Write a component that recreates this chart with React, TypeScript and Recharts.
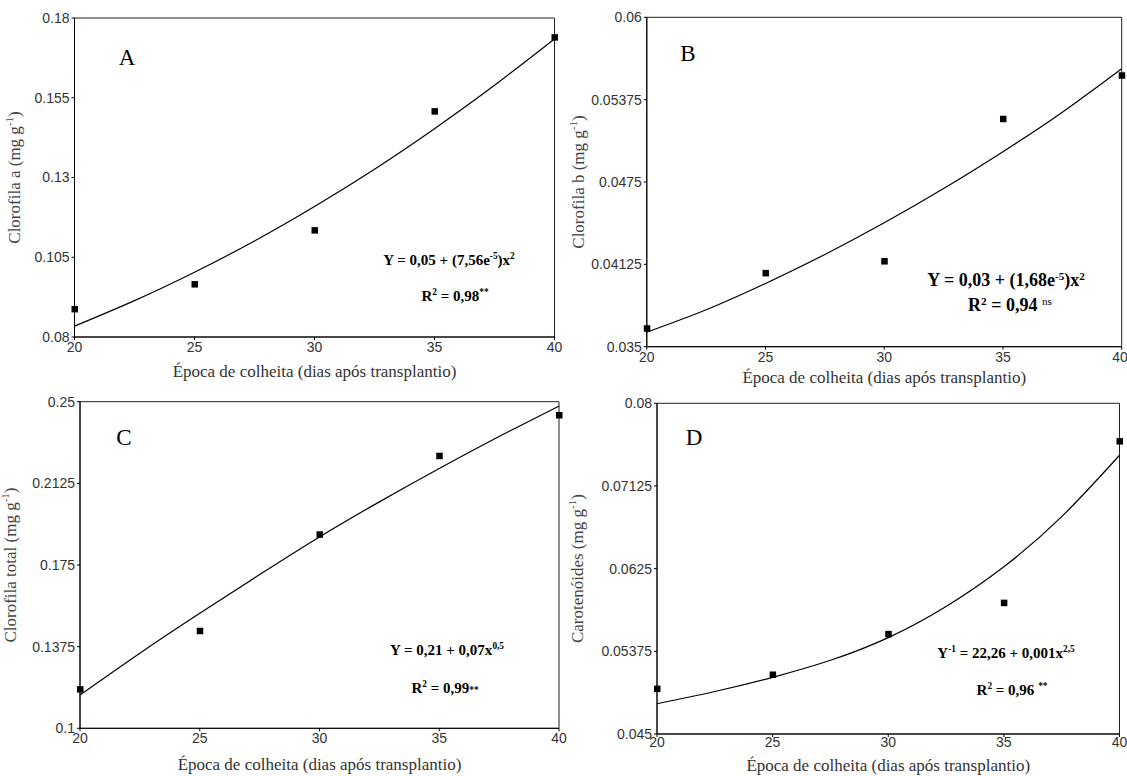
import { ComposedChart, Line, Scatter, XAxis, YAxis, ReferenceArea } from "recharts";

// dias após transplantio
const epocas = [20, 25, 30, 35, 40];
const ajusteX = [20, 22.5, 25, 27.5, 30, 32.5, 35, 37.5, 40];
const xTicks = [20, 25, 30, 35, 40];

// A - clorofila a
const clorofilaA = [0.0888, 0.0966, 0.1135, 0.1508, 0.174];
const ajusteA = [0.0834, 0.0914, 0.1003, 0.1101, 0.1209, 0.1326, 0.1453, 0.1589, 0.1734];
const ticksA = [0.08, 0.105, 0.13, 0.155, 0.18];

// B - clorofila b
const clorofilaB = [0.0364, 0.0406, 0.0415, 0.0523, 0.0556];
const ajusteB = [0.0361, 0.0378, 0.0398, 0.042, 0.0444, 0.047, 0.0498, 0.0528, 0.0561];
const ticksB = [0.035, 0.04125, 0.0475, 0.05375, 0.06];

// C - clorofila total
const clorofilaTotal = [0.118, 0.1448, 0.1891, 0.2252, 0.2439];
const ajusteTotal = [0.1153, 0.1345, 0.1528, 0.1706, 0.1879, 0.204, 0.2193, 0.234, 0.248];
const ticksC = [0.1, 0.1375, 0.175, 0.2125, 0.25];

// D - carotenóides
const carotenoides = [0.0498, 0.0513, 0.0556, 0.0589, 0.076];
const ajusteCarot = [0.0482, 0.0495, 0.051, 0.0528, 0.0552, 0.0585, 0.0627, 0.068, 0.0745];
const ticksD = [0.045, 0.05375, 0.0625, 0.07125, 0.08];

const serif = "'Liberation Serif', 'Times New Roman', serif";
const sans = "'Liberation Sans', Arial, sans-serif";
const xTitle = "Época de colheita (dias após transplantio)";

const Square = (props: any) => {
  const { cx, cy } = props;
  return <rect x={cx - 3} y={cy - 3} width={6.5} height={6.5} fill="#000" />;
};

type PanelProps = {
  left: number;
  top: number;
  width: number;
  height: number;
  margin: { top: number; right: number; bottom: number; left: number };
  xAxisHeight: number;
  tickMargin: number;
  xTitleDy: number;
  yTitleX: number;
  yTitle: string;
  points: number[];
  fit: number[];
  yTicks: number[];
};

const Panel = (p: PanelProps) => {
  const pts = epocas.map((x, i) => ({ x, y: p.points[i] }));
  const curve = ajusteX.map((x, i) => ({ x, y: p.fit[i] }));
  const yMin = p.yTicks[0];
  const yMax = p.yTicks[p.yTicks.length - 1];

  const renderXTitle = (props: any) => {
    const vb = props.viewBox || { x: 0, y: 0, width: 0 };
    return (
      <text
        x={vb.x + vb.width / 2}
        y={vb.y + p.xTitleDy}
        textAnchor="middle"
        fontFamily={serif}
        fontSize={17}
        fill="#333"
      >
        {xTitle}
      </text>
    );
  };

  const renderYTitle = (props: any) => {
    const vb = props.viewBox || { x: 0, y: 0, height: 0 };
    const cy = vb.y + vb.height / 2;
    const cx = p.yTitleX + 6;
    return (
      <text
        x={cx}
        y={cy}
        transform={`rotate(-90 ${cx} ${cy})`}
        textAnchor="middle"
        fontFamily={serif}
        fontSize={17}
        fill="#444"
      >
        {p.yTitle} (mg g
        <tspan dy={-7} fontSize={11}>
          -1
        </tspan>
        <tspan dy={7}>)</tspan>
      </text>
    );
  };

  return (
    <div style={{ position: "absolute", left: p.left, top: p.top }}>
      <ComposedChart width={p.width} height={p.height} margin={p.margin}>
        <XAxis
          type="number"
          dataKey="x"
          domain={[20, 40]}
          ticks={xTicks}
          height={p.xAxisHeight}
          tickSize={3}
          tickMargin={p.tickMargin}
          stroke="#000"
          tick={{ fill: "#333", fontSize: 14, fontFamily: sans }}
          label={renderXTitle}
        />
        <YAxis
          type="number"
          dataKey="y"
          domain={[yMin, yMax]}
          ticks={p.yTicks}
          width={60}
          tickSize={3}
          tickMargin={2}
          stroke="#000"
          tick={{ fill: "#333", fontSize: 14, fontFamily: sans }}
          label={renderYTitle}
        />
        <ReferenceArea
          x1={20}
          x2={40}
          y1={yMin}
          y2={yMax}
          fill="none"
          fillOpacity={0}
          stroke="#222"
          strokeWidth={1}
        />
        <Line
          data={curve}
          dataKey="y"
          type="natural"
          stroke="#000"
          strokeWidth={1.2}
          dot={false}
          isAnimationActive={false}
        />
        <Scatter data={pts} dataKey="y" shape={Square} isAnimationActive={false} />
      </ComposedChart>
    </div>
  );
};

const Note = ({ x, y, size, bold, children }: any) => (
  <div
    style={{
      position: "absolute",
      left: x,
      top: y,
      transform: "translate(-50%, -50%)",
      whiteSpace: "nowrap",
      lineHeight: 1,
      fontFamily: serif,
      fontSize: size,
      fontWeight: bold ? "bold" : "normal",
      color: "#000",
    }}
  >
    {children}
  </div>
);

const supStyle = { fontSize: "0.62em", verticalAlign: "0.55em", lineHeight: 0 };

const App = () => {
  return (
    <div
      style={{
        position: "absolute",
        left: 0,
        top: 0,
        width: 1127,
        height: 776,
        background: "#fff",
        overflow: "hidden",
      }}
    >
      <Panel
        left={0}
        top={0}
        width={570}
        height={390}
        margin={{ top: 18, right: 15.5, bottom: 3, left: 14.5 }}
        xAxisHeight={50}
        tickMargin={2}
        xTitleDy={40}
        yTitleX={14}
        yTitle="Clorofila a"
        points={clorofilaA}
        fit={ajusteA}
        yTicks={ticksA}
      />
      <Panel
        left={560}
        top={0}
        width={567}
        height={390}
        margin={{ top: 17.3, right: 5.3, bottom: 3.3, left: 26.8 }}
        xAxisHeight={40}
        tickMargin={2}
        xTitleDy={36}
        yTitleX={17.5}
        yTitle="Clorofila b"
        points={clorofilaB}
        fit={ajusteB}
        yTicks={ticksB}
      />
      <Panel
        left={0}
        top={388}
        width={570}
        height={388}
        margin={{ top: 13.7, right: 11, bottom: 2.7, left: 20 }}
        xAxisHeight={45}
        tickMargin={2}
        xTitleDy={42}
        yTitleX={10}
        yTitle="Clorofila total"
        points={clorofilaTotal}
        fit={ajusteTotal}
        yTicks={ticksC}
      />
      <Panel
        left={560}
        top={388}
        width={567}
        height={388}
        margin={{ top: 15.3, right: 7.5, bottom: 2, left: 37 }}
        xAxisHeight={40}
        tickMargin={0}
        xTitleDy={37}
        yTitleX={17.5}
        yTitle="Carotenóides"
        points={carotenoides}
        fit={ajusteCarot}
        yTicks={ticksD}
      />

      <Note x={127} y={57} size={23}>A</Note>
      <Note x={688} y={53} size={23}>B</Note>
      <Note x={124} y={437} size={23}>C</Note>
      <Note x={694} y={437} size={23}>D</Note>

      <Note x={449} y={260} size={15} bold>
        Y = 0,05 + (7,56e<sup style={supStyle}>-5</sup>)x<sup style={supStyle}>2</sup>
      </Note>
      <Note x={455} y={296} size={15} bold>
        R<sup style={supStyle}>2</sup> = 0,98<sup style={supStyle}>**</sup>
      </Note>

      <Note x={1006} y={280} size={18} bold>
        Y = 0,03 + (1,68e<sup style={supStyle}>-5</sup>)x<sup style={supStyle}>2</sup>
      </Note>
      <Note x={1010} y={305} size={18} bold>
        R<sup style={supStyle}>2</sup> = 0,94 <sup style={{ ...supStyle, fontWeight: "normal" }}>ns</sup>
      </Note>

      <Note x={447} y={650} size={15} bold>
        Y = 0,21 + 0,07x<sup style={supStyle}>0,5</sup>
      </Note>
      <Note x={445} y={688} size={15} bold>
        R<sup style={supStyle}>2</sup> = 0,99<span style={{ fontSize: "0.62em" }}>**</span>
      </Note>

      <Note x={1006} y={653} size={15} bold>
        Y<sup style={supStyle}>-1</sup> = 22,26 + 0,001x<sup style={supStyle}>2,5</sup>
      </Note>
      <Note x={1012} y={690} size={15} bold>
        R<sup style={supStyle}>2</sup> = 0,96 <sup style={supStyle}>**</sup>
      </Note>
    </div>
  );
};

export default App;
